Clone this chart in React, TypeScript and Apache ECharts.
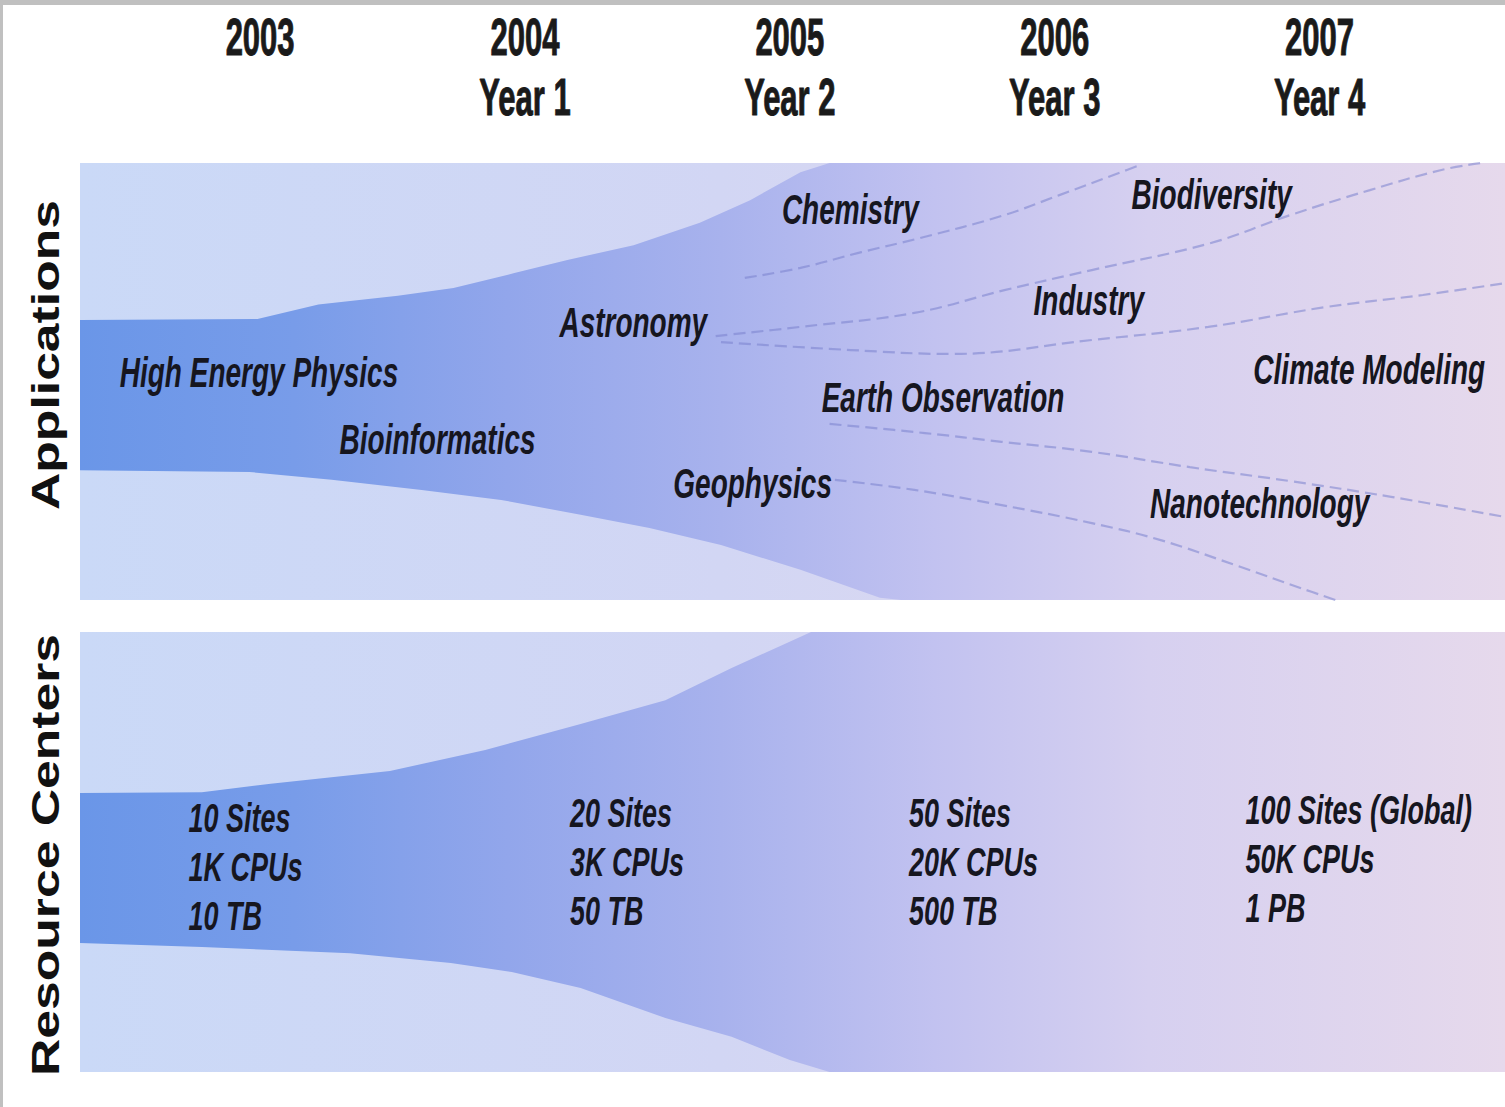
import React, { useEffect, useRef } from "react";
import * as echarts from "echarts";

// ---- axis domain (years) ----
const X_MIN = 2002.32;
const X_MAX = 2007.7;

// ---- header tick labels ----
const YEARS = [2003, 2004, 2005, 2006, 2007];
const YEAR_SUB = ["", "Year 1", "Year 2", "Year 3", "Year 4"];

// ---- panel titles ----
const PANEL_TITLES = ["Applications", "Resource Centers"];

// ---- Applications band outline (year, % of panel height) ----
const APP_BAND_UPPER = [
  [2002.32, 64.1], [2002.99, 64.3], [2003.22, 67.6], [2003.52, 69.6], [2003.73, 71.4],
  [2003.96, 74.8], [2004.16, 77.8], [2004.41, 81.2], [2004.66, 86.3], [2004.85, 91.5],
  [2005.04, 97.9], [2005.15, 100], [2007.7, 100],
];
const APP_BAND_LOWER = [
  [2002.32, 29.7], [2002.96, 29.3], [2003.27, 27.5], [2003.61, 25.2], [2003.91, 22.9],
  [2004.21, 19.5], [2004.47, 16.5], [2004.74, 12.6], [2005.04, 6.9], [2005.34, 0.5],
  [2005.42, 0], [2007.7, 0],
];

// ---- Resource Centers band outline ----
const RC_BAND_UPPER = [
  [2002.32, 63.4], [2002.78, 63.6], [2003.04, 65.5], [2003.49, 68.4], [2003.85, 73.2],
  [2004.21, 79.1], [2004.53, 84.5], [2004.78, 91.8], [2004.97, 97.0], [2005.08, 100],
  [2007.7, 100],
];
const RC_BAND_LOWER = [
  [2002.32, 29.3], [2002.78, 28.4], [2003.34, 27.0], [2003.72, 24.8], [2003.95, 22.7],
  [2004.21, 19.1], [2004.53, 12.3], [2004.78, 8.0], [2005.0, 2.7], [2005.15, 0],
  [2007.7, 0],
];

// ---- stream separators (Applications) ----
const SEP_CHEMISTRY = [
  [2004.83, 73.7], [2005.04, 76.0], [2005.27, 79.6], [2005.49, 82.8], [2005.8, 87.9],
  [2006.02, 92.7], [2006.25, 97.9], [2006.32, 99.5],
];
const SEP_BIODIVERSITY = [
  [2004.72, 60.4], [2005.04, 62.5], [2005.47, 65.7], [2005.81, 70.9], [2006.14, 75.5],
  [2006.59, 81.7], [2006.89, 88.1], [2007.19, 93.8], [2007.46, 98.4], [2007.61, 100],
];
const SEP_INDUSTRY = [
  [2004.74, 59.0], [2005.23, 57.2], [2005.61, 56.3], [2006.14, 59.5], [2006.58, 62.5],
  [2007.02, 67.0], [2007.39, 69.8], [2007.7, 72.5],
];
const SEP_EARTH = [
  [2005.15, 40.3], [2005.51, 38.2], [2005.8, 36.2], [2006.14, 33.9], [2006.51, 30.4],
  [2006.89, 27.2], [2007.27, 23.6], [2007.7, 19.0],
];
const SEP_GEOPHYSICS = [
  [2005.17, 27.5], [2005.47, 25.2], [2005.8, 21.7], [2006.14, 17.6], [2006.4, 13.7],
  [2006.7, 7.6], [2006.93, 2.7], [2007.06, 0],
];
const SEPARATORS = [SEP_CHEMISTRY, SEP_BIODIVERSITY, SEP_INDUSTRY, SEP_EARTH, SEP_GEOPHYSICS];

// ---- application labels ----
const APP_NAMES = [
  "High Energy Physics", "Bioinformatics", "Astronomy", "Chemistry", "Geophysics",
  "Earth Observation", "Industry", "Biodiversity", "Climate Modeling", "Nanotechnology",
];
const APP_X = [2002.47, 2003.3, 2004.13, 2004.97, 2004.56, 2005.12, 2005.92, 2006.29, 2006.75, 2006.36];
const APP_Y = [51.9, 36.6, 63.4, 89.2, 26.5, 46.2, 68.4, 92.7, 52.6, 22.0];

// ---- resource center labels ----
const RC_SITES = ["10 Sites", "20 Sites", "50 Sites", "100 Sites (Global)"];
const RC_CPUS = ["1K CPUs", "3K CPUs", "20K CPUs", "50K CPUs"];
const RC_STORAGE = ["10 TB", "50 TB", "500 TB", "1 PB"];
const RC_X = [2002.73, 2004.17, 2005.45, 2006.72];
const RC_Y = [46.6, 47.7, 47.7, 48.4];

const FONT = '"Liberation Sans", Arial, Helvetica, sans-serif';
const STRETCH = 1.5;

const bgGradient = () =>
  new echarts.graphic.LinearGradient(0, 0, 1, 0, [
    { offset: 0, color: "#cad9f7" },
    { offset: 0.45, color: "#d2d6f4" },
    { offset: 0.75, color: "#ddd8ef" },
    { offset: 1, color: "#e8d9ea" },
  ]);

const bandGradient = () =>
  new echarts.graphic.LinearGradient(0, 0, 1, 0, [
    { offset: 0, color: "rgb(106,150,232)" },
    { offset: 0.15, color: "rgb(120,156,233)" },
    { offset: 0.3, color: "rgb(146,166,235)" },
    { offset: 0.45, color: "rgb(168,178,237)" },
    { offset: 0.6, color: "rgb(194,194,240)" },
    { offset: 0.75, color: "rgb(214,208,240)" },
    { offset: 1, color: "rgb(230,217,236)" },
  ]);

function bandSeries(upper: number[][], lower: number[][], axis: number) {
  return {
    type: "custom",
    xAxisIndex: axis,
    yAxisIndex: axis,
    silent: true,
    z: 1,
    data: [[upper[0][0], upper[0][1]]],
    renderItem: (_p: any, api: any) => {
      const pts = [...upper, ...lower.slice().reverse()].map((d) => api.coord(d));
      return {
        type: "polygon",
        shape: { points: pts },
        style: { fill: bandGradient() },
      };
    },
  };
}

function textSeries(
  xs: number[],
  ys: number[],
  texts: string[],
  axis: number,
  font: string,
  lineHeight: number
) {
  return {
    type: "custom",
    xAxisIndex: axis,
    yAxisIndex: axis,
    silent: true,
    z: 5,
    data: xs.map((x, i) => [x, ys[i]]),
    renderItem: (params: any, api: any) => {
      const p = api.coord([api.value(0), api.value(1)]);
      return {
        type: "text",
        x: p[0],
        y: p[1],
        scaleX: 1,
        scaleY: STRETCH,
        style: {
          text: texts[params.dataIndex],
          font,
          lineHeight,
          fill: "#16161f",
          align: "left",
          verticalAlign: "middle",
        },
      };
    },
  };
}

export default function App() {
  const ref = useRef<HTMLDivElement>(null);

  useEffect(() => {
    if (!ref.current) return;
    const chart = echarts.init(ref.current, null, { renderer: "svg" });

    const separatorSeries = SEPARATORS.map((pts) => ({
      type: "line",
      xAxisIndex: 0,
      yAxisIndex: 0,
      data: pts,
      smooth: 0.4,
      symbol: "none",
      silent: true,
      z: 3,
      lineStyle: { color: "rgba(122,130,206,0.55)", width: 2.2, type: [12, 6] },
    }));

    const yearSeries = {
      type: "custom",
      xAxisIndex: 0,
      yAxisIndex: 0,
      silent: true,
      z: 5,
      data: YEARS.map((y) => [y, 100]),
      renderItem: (params: any, api: any) => {
        const p = api.coord([api.value(0), api.value(1)]);
        const i = params.dataIndex;
        return {
          type: "group",
          children: [
            {
              type: "text",
              x: p[0],
              y: p[1] - 126,
              scaleY: 1.65,
              style: {
                text: String(YEARS[i]),
                font: `bold 31px ${FONT}`,
                fill: "#1a1a1a",
                stroke: "#1a1a1a",
                lineWidth: 0.6,
                align: "center",
                verticalAlign: "middle",
              },
            },
            {
              type: "text",
              x: p[0],
              y: p[1] - 66,
              scaleY: 1.65,
              style: {
                text: YEAR_SUB[i],
                font: `bold 31px ${FONT}`,
                fill: "#1a1a1a",
                stroke: "#1a1a1a",
                lineWidth: 0.6,
                align: "center",
                verticalAlign: "middle",
              },
            },
          ],
        };
      },
    };

    const rcTexts = RC_SITES.map((s, i) => `${s}\n${RC_CPUS[i]}\n${RC_STORAGE[i]}`);

    chart.setOption({
      animation: false,
      backgroundColor: "#ffffff",
      grid: [
        { left: 80, top: 163, width: 1425, height: 437, show: true, borderWidth: 0, backgroundColor: bgGradient() },
        { left: 80, top: 632, width: 1425, height: 440, show: true, borderWidth: 0, backgroundColor: bgGradient() },
      ],
      xAxis: [
        { type: "value", gridIndex: 0, min: X_MIN, max: X_MAX, show: false },
        { type: "value", gridIndex: 1, min: X_MIN, max: X_MAX, show: false },
      ],
      yAxis: [
        { type: "value", gridIndex: 0, min: 0, max: 100, show: false },
        { type: "value", gridIndex: 1, min: 0, max: 100, show: false },
      ],
      graphic: [
        { type: "rect", left: 0, top: 0, shape: { width: 1505, height: 5 }, style: { fill: "#c0c0c0" }, z: 10 },
        { type: "rect", left: 0, top: 0, shape: { width: 3, height: 1107 }, style: { fill: "#c0c0c0" }, z: 10 },
        {
          type: "text",
          x: 46,
          y: 355,
          rotation: Math.PI / 2,
          scaleX: 1.36,
          style: {
            text: PANEL_TITLES[0],
            font: `bold 38px ${FONT}`,
            fill: "#111111",
            align: "center",
            verticalAlign: "middle",
          },
          z: 10,
        },
        {
          type: "text",
          x: 46,
          y: 855,
          rotation: Math.PI / 2,
          scaleX: 1.36,
          style: {
            text: PANEL_TITLES[1],
            font: `bold 38px ${FONT}`,
            fill: "#111111",
            align: "center",
            verticalAlign: "middle",
          },
          z: 10,
        },
      ],
      series: [
        bandSeries(APP_BAND_UPPER, APP_BAND_LOWER, 0),
        bandSeries(RC_BAND_UPPER, RC_BAND_LOWER, 1),
        ...separatorSeries,
        textSeries(APP_X, APP_Y, APP_NAMES, 0, `italic bold 28px ${FONT}`, 30),
        textSeries(RC_X, RC_Y, rcTexts, 1, `italic bold 27px ${FONT}`, 32.5),
        yearSeries,
      ],
    });

    return () => chart.dispose();
  }, []);

  return (
    <div
      ref={ref}
      style={{ position: "fixed", left: 0, top: 0, width: 1505, height: 1107, background: "#fff" }}
    />
  );
}
